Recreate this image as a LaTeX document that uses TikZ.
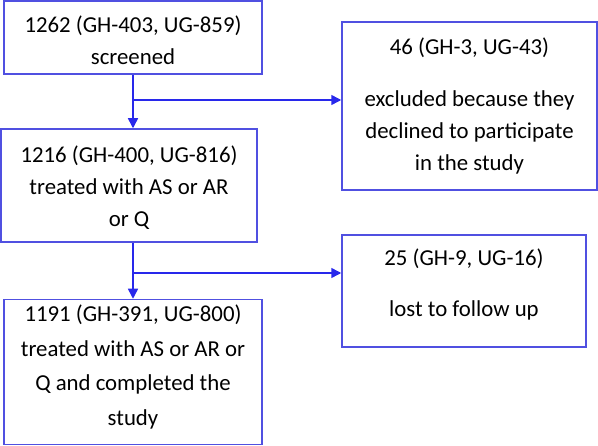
\documentclass[tikz,border=0pt]{standalone}
\usepackage{fontspec}
\setmainfont{Carlito}
\usetikzlibrary{arrows.meta}
\definecolor{boxblue}{RGB}{80,80,225}
\definecolor{arrblue}{RGB}{40,40,235}
\tikzset{
  box/.style={draw=boxblue, line width=1.5pt, rectangle, align=center, inner sep=0pt,
    font=\fontsize{22.8pt}{32pt}\selectfont, text=black},
  txt/.style={align=center, inner sep=0pt, font=\fontsize{22.8pt}{32pt}\selectfont, text=black},
  arr/.style={draw=arrblue, line width=1.5pt, -{Triangle[length=10pt,width=10pt]}},
}
\begin{document}
\begin{tikzpicture}[x=1pt,y=-1pt]
\useasboundingbox (0,0) rectangle (598,446);
\node[box, minimum width=258pt, minimum height=73pt] (b1) at (133,37.5) {};
\node[txt] (t1) at (133,40) {1262 (GH-403, UG-859)\\screened};
\node[box, minimum width=255pt, minimum height=168pt] (b2) at (469.5,106) {46 (GH-3, UG-43)\\[20pt]excluded because they\\declined to participate\\in the study};
\node[box, minimum width=256pt, minimum height=113pt] (b3) at (129,185.5) {};
\node[txt] (t3) at (129,187.5) {1216 (GH-400, UG-816)\\treated with AS or AR\\or Q};
\node[box, minimum width=244pt, minimum height=112pt] (b4) at (464,291) {};
\node[txt] (t4) at (464,284.5) {25 (GH-9, UG-16)\\[19pt]lost to follow up};
\node[box, minimum width=258pt, minimum height=145pt] (b5) at (133,372) {};
\node[txt, font=\fontsize{22.8pt}{34.5pt}\selectfont] (t5) at (133,367) {1191 (GH-391, UG-800)\\treated with AS or AR or\\Q and completed the\\study};
\coordinate (j1) at (133,100);
\coordinate (j2) at (133,273);
\draw[arr] (b1.south) -- (b1.south |- b3.north);
\draw[arr] (j1) -- (j1 -| b2.west);
\draw[arr] (b1.south |- b3.south) -- (b1.south |- b5.north);
\draw[arr] (j2) -- (j2 -| b4.west);
\end{tikzpicture}
\end{document}
